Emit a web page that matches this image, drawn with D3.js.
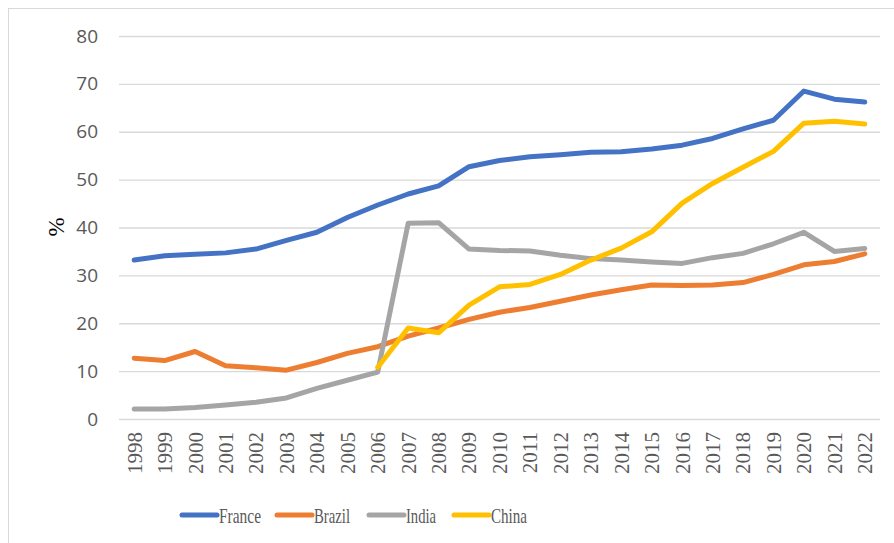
<!DOCTYPE html>
<html>
<head>
<meta charset="utf-8">
<script src="https://cdn.jsdelivr.net/npm/d3@7"></script>
<style>
  body { margin: 0; background: #fff; }
  svg { display: block; }
  .serif { font-family: "Liberation Serif", "Times New Roman", Tinos, "DejaVu Serif", serif; }
</style>
</head>
<body>
<div id="chart"></div>
<script>
// values
const years = ["1998", "1999", "2000", "2001", "2002", "2003", "2004", "2005", "2006", "2007", "2008", "2009",
    "2010", "2011", "2012", "2013", "2014", "2015", "2016", "2017", "2018", "2019", "2020", "2021", "2022"];

const france = [33.2, 34.1, 34.4, 34.7, 35.5, 37.3, 39.0, 42.1, 44.7, 47.0, 48.7, 52.7,
    54.0, 54.8, 55.2, 55.7, 55.8, 56.4, 57.2, 58.6, 60.6, 62.4, 68.5, 66.8, 66.2];
const brazil = [12.7, 12.2, 14.1, 11.1, 10.7, 10.2, 11.8, 13.7, 15.1, 17.3, 19.0, 20.8,
    22.3, 23.3, 24.6, 25.9, 27.0, 28.0, 27.9, 28.0, 28.5, 30.2, 32.2, 32.9, 34.5];
const india = [2.1, 2.1, 2.4, 2.9, 3.5, 4.4, 6.4, 8.1, 9.8, 40.9, 41.0, 35.5,
    35.2, 35.1, 34.2, 33.5, 33.2, 32.8, 32.5, 33.7, 34.6, 36.6, 39.0, 35.0, 35.6];
// China series starts in 2006
const china = [null, null, null, null, null, null, null, null, 10.8, 19.0, 18.0, 23.8,
    27.6, 28.1, 30.2, 33.2, 35.7, 39.1, 45.1, 49.2, 52.6, 55.9, 61.8, 62.2, 61.6];

const yTicks = [0, 10, 20, 30, 40, 50, 60, 70, 80];

const seriesList = [
    { name: "France", values: france, color: "#4472C4" },
    { name: "Brazil", values: brazil, color: "#ED7D31" },
    { name: "India", values: india, color: "#A5A5A5" },
    { name: "China", values: china, color: "#FFC000" }
];

const width = 894, height = 543;
const plot = { left: 119, right: 880, top: 36, bottom: 419 };

const svg = d3.select("#chart").append("svg")
    .attr("width", width)
    .attr("height", height);

// outer chart frame (only top/left edges fall inside the picture)
svg.append("rect")
    .attr("x", 8.5).attr("y", 8.5)
    .attr("width", 900).attr("height", 600)
    .attr("fill", "none")
    .attr("stroke", "#d9d9d9")
    .attr("stroke-width", 1);

const x = d3.scalePoint()
    .domain(years)
    .range([plot.left, plot.right])
    .padding(0.5);

const y = d3.scaleLinear()
    .domain([0, 80])
    .range([plot.bottom, plot.top]);

// gridlines + y labels
const yAxis = svg.append("g")
    .attr("transform", `translate(${plot.left},0)`)
    .call(d3.axisLeft(y).tickValues(yTicks).tickSize(-(plot.right - plot.left)).tickPadding(21));
yAxis.select(".domain").remove();
yAxis.selectAll(".tick line")
    .attr("stroke", "#d9d9d9")
    .attr("stroke-width", 1.3);
yAxis.selectAll(".tick text")
    .attr("fill", "#595959")
    .style("font-family", "'Open Sans', 'Liberation Sans', sans-serif")
    .style("font-size", "19px");

// x labels, rotated
const xAxis = svg.append("g")
    .attr("transform", `translate(0,${plot.bottom})`)
    .call(d3.axisBottom(x).tickSize(0).tickPadding(0));
xAxis.attr("font-family", null);
xAxis.select(".domain").remove();
xAxis.selectAll(".tick text")
    .attr("class", "serif")
    .attr("fill", "#595959")
    .attr("text-anchor", "end")
    .attr("transform", "translate(0,13) rotate(-90)")
    .attr("x", 0)
    .attr("y", 0)
    .attr("dy", "0.33em")
    .style("font-size", "21px");

// y axis title
svg.append("text")
    .attr("class", "serif")
    .attr("transform", "translate(56,227) rotate(-90)")
    .attr("text-anchor", "middle")
    .attr("dy", "0.35em")
    .attr("fill", "#000")
    .style("font-size", "23px")
    .text("%");

// series lines
const line = d3.line()
    .defined(d => d.v != null)
    .x(d => x(d.year))
    .y(d => y(d.v));

svg.append("g")
    .attr("class", "lines")
    .selectAll("path")
    .data(seriesList)
    .enter().append("path")
    .attr("fill", "none")
    .attr("stroke", d => d.color)
    .attr("stroke-width", 5)
    .attr("stroke-linecap", "round")
    .attr("stroke-linejoin", "round")
    .attr("d", s => line(years.map((yr, i) => ({ year: yr, v: s.values[i] }))));

// legend
const legendX = [182, 277, 369, 454];
const legendTextW = [42, 36, 30, 36];
const legend = svg.append("g")
    .attr("class", "legend")
    .selectAll("g")
    .data(seriesList)
    .enter().append("g")
    .attr("transform", (d, i) => `translate(${legendX[i]},515)`);

legend.append("line")
    .attr("x1", 0).attr("x2", 35)
    .attr("y1", 0).attr("y2", 0)
    .attr("stroke", d => d.color)
    .attr("stroke-width", 5)
    .attr("stroke-linecap", "round");

legend.append("text")
    .attr("class", "serif")
    .attr("x", 37)
    .attr("y", 8)
    .attr("fill", "#595959")
    .attr("textLength", (d, i) => legendTextW[i])
    .attr("lengthAdjust", "spacingAndGlyphs")
    .style("font-size", "22px")
    .text(d => d.name);
</script>
</body>
</html>
